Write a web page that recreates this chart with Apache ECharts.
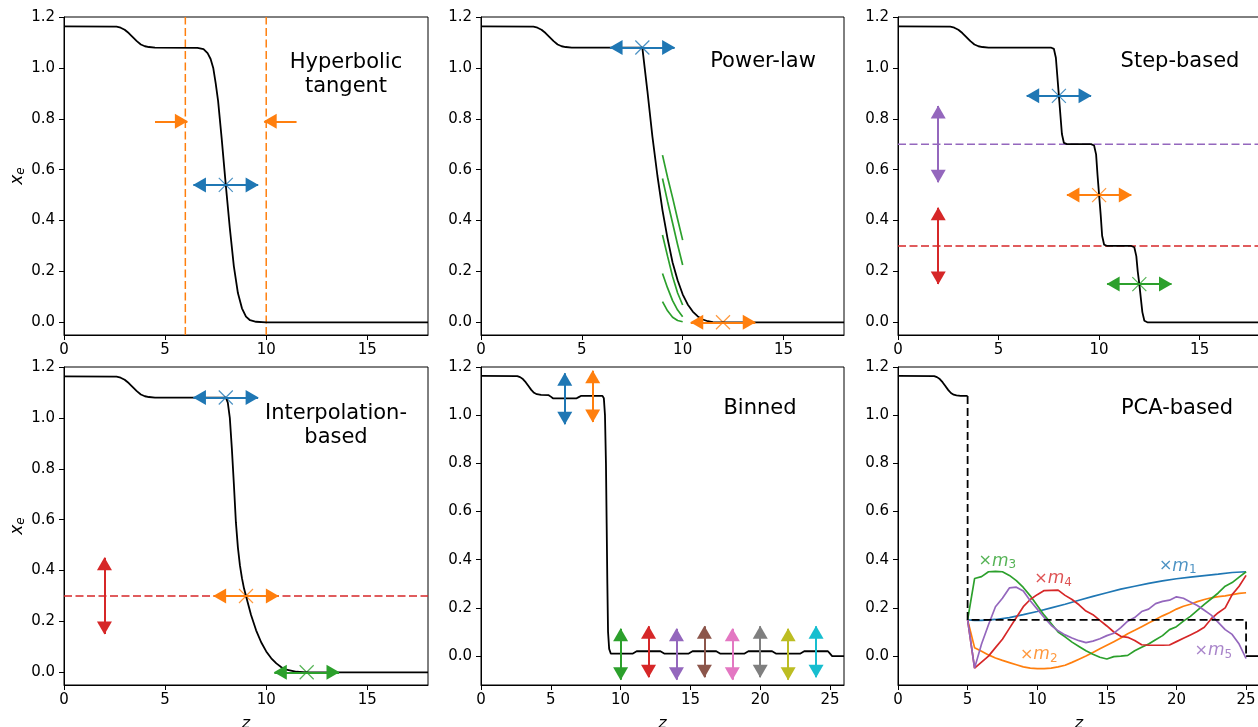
<!DOCTYPE html>
<html><head><meta charset="utf-8">
<script src="https://cdn.jsdelivr.net/npm/echarts@6/dist/echarts.min.js"></script>
<style>html,body{margin:0;padding:0;background:#fff}#c{width:1258px;height:727px}</style>
</head><body><div id="c"></div>
<script>
// ---------------- data ----------------
const panelTitles = ['Hyperbolic\ntangent', 'Power-law', 'Step-based', 'Interpolation-\nbased', 'Binned', 'PCA-based'];
const xTicksShort = [0, 5, 10, 15];
const xTicksLong = [0, 5, 10, 15, 20, 25];
const yTicks = [0, 0.2, 0.4, 0.6, 0.8, 1.0, 1.2];

const heliumPart = [[0,1.163],[2.6,1.162],[2.8,1.158],[3.0,1.150],[3.2,1.137],[3.4,1.121],[3.6,1.105],[3.8,1.092],[4.0,1.085],[4.2,1.082],[4.5,1.080]];

const tanhCurve = heliumPart.concat([[6.6,1.079],[6.9,1.074],[7.1,1.058],[7.25,1.035],[7.38,1.0],[7.5,0.94],[7.62,0.87],[7.8,0.72],[8.0,0.54],[8.2,0.37],[8.4,0.22],[8.6,0.115],[8.8,0.055],[9.0,0.022],[9.2,0.008],[9.5,0.002],[10,0],[18,0]]);
const tanhEdges = [6, 10];
const tanhArrows = [[6.4,0.54,9.6,0.54,0,2],[4.5,0.79,6.1,0.79,1,1],[11.5,0.79,9.9,0.79,1,1]];
const tanhMarkers = [[8,0.54,0]];

const powerCurve = heliumPart.concat([[5,1.08],[8.0,1.08],[8.25,0.91],[8.5,0.73],[8.75,0.575],[9.0,0.44],[9.25,0.33],[9.5,0.235],[9.75,0.165],[10.0,0.11],[10.25,0.07],[10.5,0.042],[10.75,0.023],[11.0,0.011],[11.25,0.004],[11.5,0.001],[12,0],[18,0]]);
const powerFits = [
  [[9.0,0.657],[9.25,0.57],[9.5,0.49],[9.75,0.405],[10,0.323]],
  [[9.0,0.565],[9.25,0.475],[9.5,0.39],[9.75,0.305],[10,0.225]],
  [[9.0,0.343],[9.25,0.26],[9.5,0.18],[9.75,0.115],[10,0.068]],
  [[9.0,0.192],[9.25,0.135],[9.5,0.085],[9.75,0.048],[10,0.022]],
  [[9.0,0.081],[9.25,0.045],[9.5,0.02],[9.75,0.007],[10,0.002]]
];
const powerArrows = [[6.4,1.08,9.6,1.08,0,2],[10.4,0,13.6,0,1,2]];
const powerMarkers = [[8,1.08,0],[12,0,1]];

const stepCurve = heliumPart.concat([[5,1.08],[7.6,1.08],[7.75,1.075],[7.85,1.04],[7.92,0.97],[8.0,0.89],[8.08,0.81],[8.15,0.74],[8.25,0.705],[8.4,0.7],[9.6,0.7],[9.75,0.695],[9.85,0.66],[9.92,0.58],[10.0,0.5],[10.08,0.42],[10.15,0.34],[10.25,0.305],[10.4,0.3],[11.6,0.3],[11.75,0.295],[11.85,0.26],[11.92,0.2],[12.0,0.15],[12.08,0.09],[12.15,0.04],[12.25,0.006],[12.4,0],[18,0]]);
const stepLevels = [[0.7,4],[0.3,3]];
const stepArrows = [[6.4,0.89,9.6,0.89,0,2],[8.4,0.5,11.6,0.5,1,2],[10.4,0.15,13.6,0.15,2,2],[2,0.55,2,0.85,4,2],[2,0.15,2,0.45,3,2]];
const stepMarkers = [[8,0.89,0],[10,0.5,1],[12,0.15,2]];

const interpCurve = heliumPart.concat([[5,1.08],[8.0,1.08],[8.1,1.06],[8.2,1.0],[8.3,0.88],[8.4,0.74],[8.5,0.59],[8.6,0.49],[8.7,0.42],[8.8,0.37],[8.9,0.33],[9.0,0.3],[9.25,0.225],[9.5,0.165],[9.75,0.118],[10.0,0.082],[10.25,0.055],[10.5,0.035],[10.75,0.02],[11.0,0.01],[11.5,0.002],[12,0],[18,0]]);
const interpLevels = [[0.3,3]];
const interpArrows = [[6.4,1.08,9.6,1.08,0,2],[7.4,0.3,10.6,0.3,1,2],[10.4,0,13.6,0,2,2],[2,0.15,2,0.45,3,2]];
const interpMarkers = [[8,1.08,0],[9,0.3,1],[12,0,2]];

const binnedCurve = [[0,1.163],[2.6,1.162],[2.8,1.158],[3.0,1.150],[3.2,1.137],[3.4,1.121],[3.6,1.105],[3.8,1.093],[4.0,1.087],[4.3,1.084],[4.85,1.083],[5.0,1.077],[5.15,1.07],[6.85,1.07],[7.0,1.075],[7.15,1.08],[8.7,1.08],[8.8,1.07],[8.88,1.0],[8.95,0.8],[9.0,0.55],[9.05,0.3],[9.1,0.1],[9.18,0.03],[9.3,0.01],[10.85,0.01],[11.0,0.015],[11.15,0.02],[12.85,0.02],[13.0,0.015],[13.15,0.01],[14.85,0.01],[15.0,0.015],[15.15,0.02],[16.85,0.02],[17.0,0.015],[17.15,0.01],[18.85,0.01],[19.0,0.015],[19.15,0.02],[20.85,0.02],[21.0,0.015],[21.15,0.01],[22.85,0.01],[23.0,0.015],[23.15,0.02],[24.85,0.02],[25.0,0.01],[25.15,0],[26,0]];
const binCenters = [6, 8, 10, 12, 14, 16, 18, 20, 22, 24];
const binLevels = [1.068, 1.078, 0.008, 0.018, 0.008, 0.018, 0.008, 0.018, 0.008, 0.018];
const binHalf = 0.106;

const pcaEarly = heliumPart.concat([[5,1.08]]);
const pcaFiducial = [[5,1.08],[5,0.15],[25,0.15],[25,0]];
const pcaTail = [[25,0],[26,0]];
const pcaM1 = [[5,0.15],[5.5,0.148],[6,0.148],[7,0.152],[8,0.16],[9,0.172],[10,0.185],[11,0.2],[12,0.215],[13,0.232],[14,0.248],[15,0.263],[16,0.278],[17,0.29],[18,0.302],[19,0.312],[20,0.321],[21,0.328],[22,0.334],[23,0.34],[24,0.347],[25,0.35]];
const pcaM2 = [[5,0.15],[5.5,0.035],[6,0.02],[6.5,0.005],[7,-0.008],[7.5,-0.018],[8,-0.027],[8.5,-0.036],[9,-0.045],[9.5,-0.05],[10,-0.052],[10.5,-0.052],[11,-0.05],[11.5,-0.045],[12,-0.038],[12.5,-0.026],[13,-0.013],[13.5,0.0],[14,0.015],[14.5,0.03],[15,0.045],[15.5,0.06],[16,0.075],[16.5,0.093],[17,0.107],[17.5,0.122],[18,0.137],[18.5,0.152],[19,0.167],[19.5,0.18],[20,0.195],[20.5,0.207],[21,0.215],[21.5,0.226],[22,0.235],[22.5,0.242],[23,0.247],[23.5,0.25],[24,0.255],[24.5,0.26],[25,0.263]];
const pcaM3 = [[5,0.15],[5.5,0.322],[6,0.33],[6.5,0.35],[7,0.352],[7.5,0.35],[8,0.335],[8.5,0.313],[9,0.285],[9.5,0.25],[10,0.21],[10.5,0.17],[11,0.135],[11.5,0.1],[12,0.08],[12.5,0.058],[13,0.04],[13.5,0.022],[14,0.008],[14.5,-0.005],[15,-0.012],[15.5,-0.002],[16,0.0],[16.5,0.003],[17,0.022],[17.5,0.037],[18,0.05],[18.5,0.068],[19,0.085],[19.5,0.11],[20,0.122],[20.5,0.145],[21,0.165],[21.5,0.19],[22,0.215],[22.5,0.238],[23,0.262],[23.5,0.29],[24,0.305],[24.5,0.328],[25,0.35]];
const pcaM4 = [[5,0.15],[5.5,-0.05],[6,-0.025],[6.5,0.0],[7,0.035],[7.5,0.07],[8,0.115],[8.5,0.16],[9,0.205],[9.5,0.235],[10,0.255],[10.5,0.272],[11,0.273],[11.5,0.274],[12,0.252],[12.5,0.235],[13,0.213],[13.5,0.187],[14,0.172],[14.5,0.148],[15,0.125],[15.5,0.1],[16,0.082],[16.5,0.078],[17,0.065],[17.5,0.047],[18,0.045],[18.5,0.045],[19,0.045],[19.5,0.046],[20,0.06],[20.5,0.074],[21,0.088],[21.5,0.102],[22,0.12],[22.5,0.155],[23,0.18],[23.5,0.2],[24,0.255],[24.5,0.29],[25,0.335]];
const pcaM5 = [[5,0.15],[5.5,-0.05],[6,0.05],[6.5,0.13],[7,0.205],[7.5,0.24],[8,0.283],[8.5,0.286],[9,0.27],[9.5,0.23],[10,0.195],[10.5,0.16],[11,0.128],[11.5,0.105],[12,0.088],[12.5,0.075],[13,0.064],[13.5,0.056],[14,0.062],[14.5,0.072],[15,0.085],[15.5,0.095],[16,0.118],[16.5,0.145],[17,0.16],[17.5,0.185],[18,0.195],[18.5,0.218],[19,0.227],[19.5,0.232],[20,0.246],[20.5,0.24],[21,0.225],[21.5,0.21],[22,0.19],[22.5,0.17],[23,0.14],[23.5,0.11],[24,0.09],[24.5,0.05],[25,-0.01]];
const pcaModes = [pcaM1, pcaM2, pcaM3, pcaM4, pcaM5];
const pcaLabels = [[18.74,0.373,'1'],[8.76,0.007,'2'],[5.78,0.394,'3'],[9.79,0.322,'4'],[21.3,0.022,'5']];

// ---------------- styling ----------------
const C = ['#1f77b4','#ff7f0e','#2ca02c','#d62728','#9467bd','#8c564b','#e377c2','#7f7f7f','#bcbd22','#17becf'];
const FONT = 'DejaVu Sans';
const grids = [
  {left:64, top:17, width:364, height:318},
  {left:481, top:17, width:363, height:318},
  {left:898, top:17, width:362, height:318},
  {left:64, top:367, width:364, height:318},
  {left:481, top:367, width:363, height:318},
  {left:898, top:367, width:362, height:318}
];
const xMax = [18,18,18,18,26,26];
const yMin = [-0.05,-0.05,-0.05,-0.05,-0.12,-0.12];

const option = {
  animation:false,
  backgroundColor:'#fff',
  textStyle:{fontFamily:FONT},
  grid: grids.map(g => Object.assign({show:true, borderColor:'#000', borderWidth:1, backgroundColor:'transparent', containLabel:false, outerBoundsMode:'none'}, g)),
  xAxis: grids.map((g,i) => ({
    type:'value', gridIndex:i, min:0, max:xMax[i],
    splitLine:{show:false},
    axisLine:{show:true, onZero:false, lineStyle:{color:'#000', width:1}},
    axisTick:{show:true, inside:false, length:5, lineStyle:{color:'#000', width:1}, customValues: xMax[i] > 20 ? xTicksLong : xTicksShort},
    axisLabel:{show:true, color:'#000', fontSize:15, fontFamily:FONT, margin:8, customValues: xMax[i] > 20 ? xTicksLong : xTicksShort, formatter:v => String(v)},
    name: i >= 3 ? 'z' : '', nameLocation:'middle', nameGap:31,
    nameTextStyle:{fontSize:16, fontStyle:'italic', fontFamily:FONT, color:'#000'}
  })),
  yAxis: grids.map((g,i) => ({
    type:'value', gridIndex:i, min:yMin[i], max:1.2,
    splitLine:{show:false},
    axisLine:{show:true, onZero:false, lineStyle:{color:'#000', width:1}},
    axisTick:{show:true, inside:false, length:5, lineStyle:{color:'#000', width:1}, customValues:yTicks},
    axisLabel:{show:true, color:'#000', fontSize:15, fontFamily:FONT, margin:9, customValues:yTicks, formatter:v => v.toFixed(1)},
    name: (i === 0 || i === 3) ? '{x|x}{e|e}' : '', nameLocation:'middle', nameGap:35, nameRotate:90,
    nameTextStyle:{color:'#000', rich:{x:{fontSize:17, fontStyle:'italic', fontFamily:FONT, color:'#000', lineHeight:20}, e:{fontSize:12, fontStyle:'italic', fontFamily:FONT, color:'#000', lineHeight:11, verticalAlign:'bottom'}}}
  })),
  title: [
    {text:panelTitles[0], left:346, top:51},
    {text:panelTitles[1], left:763, top:50},
    {text:panelTitles[2], left:1180, top:50},
    {text:panelTitles[3], left:336, top:402},
    {text:panelTitles[4], left:760, top:397},
    {text:panelTitles[5], left:1177, top:397}
  ].map(t => Object.assign({textAlign:'center', padding:0, textStyle:{fontSize:21, fontWeight:'normal', fontFamily:FONT, color:'#000', lineHeight:24, align:'center'}}, t)),
  series: []
};

function curve(g, data, color, width, dash, z) {
  return {type:'line', xAxisIndex:g, yAxisIndex:g, data:data, showSymbol:false, symbol:'none', silent:true, z:z || 4,
    lineStyle:{color:color, width:width, type: dash || 'solid'}};
}
function arrowSeries(g, arrows, markers) {
  return {
    type:'scatter', xAxisIndex:g, yAxisIndex:g, z:3, silent:true,
    data: markers.map(m => ({value:[m[0], m[1]], itemStyle:{borderColor:C[m[2]]}})),
    symbol:'path://M0,0L10,10M10,0L0,10', symbolSize:14,
    itemStyle:{color:'none', borderWidth:1.2},
    markLine:{
      silent:true, animation:false, label:{show:false}, emphasis:{disabled:true},
      data: arrows.map(a => [
        {coord:[a[0], a[1]], symbol: a[5] === 2 ? 'triangle' : 'none', symbolSize:[15,13], symbolOffset:[0,6],
         lineStyle:{color:C[a[4]], width:2, type:'solid'}, itemStyle:{color:C[a[4]]}},
        {coord:[a[2], a[3]], symbol:'triangle', symbolSize:[15,13], symbolOffset:[0,6]}
      ])
    }
  };
}

const S = option.series;
// Panel 0: hyperbolic tangent
tanhEdges.forEach(e => S.push(curve(0, [[e, -0.05], [e, 1.2]], C[1], 1.5, [8,3.5], 2)));
S.push(arrowSeries(0, tanhArrows, tanhMarkers));
S.push(curve(0, tanhCurve, '#000', 1.8));
// Panel 1: power-law
powerFits.forEach(f => S.push(curve(1, f, C[2], 1.7, null, 3)));
S.push(arrowSeries(1, powerArrows, powerMarkers));
S.push(curve(1, powerCurve, '#000', 1.8));
// Panel 2: step-based
stepLevels.forEach(l => S.push(curve(2, [[0, l[0]], [18, l[0]]], C[l[1]], 1.5, [8,3.5], 2)));
S.push(arrowSeries(2, stepArrows, stepMarkers));
S.push(curve(2, stepCurve, '#000', 1.8));
// Panel 3: interpolation
interpLevels.forEach(l => S.push(curve(3, [[0, l[0]], [18, l[0]]], C[l[1]], 1.5, [8,3.5], 2)));
S.push(arrowSeries(3, interpArrows, interpMarkers));
S.push(curve(3, interpCurve, '#000', 1.8));
// Panel 4: binned
S.push(curve(4, binnedCurve, '#000', 1.8, null, 2));
S.push(arrowSeries(4, binCenters.map((zc, k) => [zc, binLevels[k] - binHalf, zc, binLevels[k] + binHalf, k, 2]), []));
// Panel 5: PCA
S.push(curve(5, pcaEarly, '#000', 1.8));
S.push(curve(5, pcaFiducial, '#000', 1.8, [8,4]));
S.push(curve(5, pcaTail, '#000', 1.8));
pcaModes.forEach((m, k) => S.push(curve(5, m, C[k], 1.7, null, 3)));
S.push({
  type:'scatter', xAxisIndex:5, yAxisIndex:5, silent:true, symbolSize:0, z:5,
  data: pcaLabels.map(l => ({value:[l[0], l[1]], sub:l[2],
    label:{color:C[+l[2]-1], rich:{t:{color:C[+l[2]-1]}, m:{color:C[+l[2]-1]}, s:{color:C[+l[2]-1]}}}})),
  label:{show:true, position:'right', distance:0, fontFamily:FONT,
    formatter: p => '{t|\u00d7}{m|m}{s|' + p.data.sub + '}',
    rich:{t:{fontSize:16, fontFamily:FONT, lineHeight:20}, m:{fontSize:17, fontStyle:'italic', fontFamily:FONT, lineHeight:20}, s:{fontSize:12, fontFamily:FONT, lineHeight:10, verticalAlign:'bottom'}}}
});

const chart = echarts.init(document.getElementById('c'), null, {renderer:'canvas'});
chart.setOption(option);
</script></body></html>
